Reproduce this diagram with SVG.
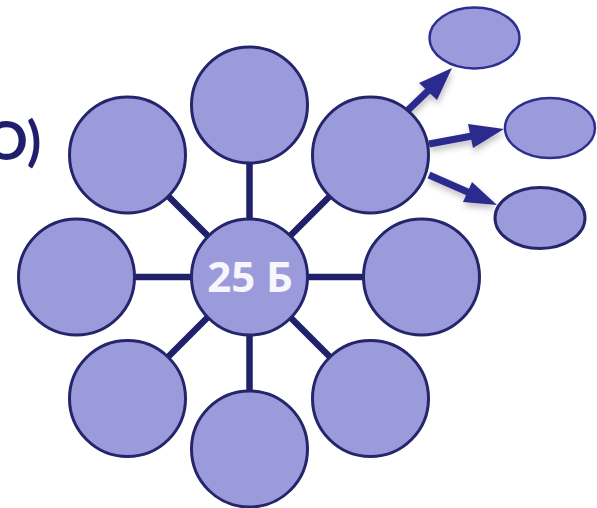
<svg xmlns="http://www.w3.org/2000/svg" width="597" height="508" viewBox="0 0 597 508">
<style>
.n{fill:#9b9bdc;stroke:#25256b;stroke-width:3}
.e{fill:#9b9bdc;stroke:#2e2e91;stroke-width:2.500}
.l{stroke:#20206b;stroke-width:6.500;fill:none}
.a{stroke:#2b2b8f;stroke-width:7;fill:none}
.h{fill:#2b2b8f}
</style>
<defs><filter id="s" x="-30%" y="-30%" width="170%" height="170%"><feDropShadow dx="1" dy="4" stdDeviation="3" flood-color="#000" flood-opacity="0.25"/></filter></defs>
<text id="title" x="-15" y="160" font-family="Lato, sans-serif" font-size="53" font-weight="700" fill="#1f1f6b">O)</text>
<g id="connectors">
<path class="l" d="M249.500 163V219M249.500 335V391M134 277H191M307 277H363M168 196L208 236M330 196L290 236M168 357L208 317M330 357L290 317"/>
<g filter="url(#s)">
<path class="a" d="M407 111L430 89"/><path class="h" d="M452 68L419 83L437 100Z"/>
<path class="a" d="M429 144L472 136"/><path class="h" d="M504 129L468 124L473 148Z"/>
<path class="a" d="M429 175L470 193"/><path class="h" d="M497 205L472 182L463 202Z"/>
</g>
</g>
<g id="n-top"><circle class="n" cx="249.500" cy="105" r="58"/></g>
<g id="n-upper-left"><circle class="n" cx="127.500" cy="155" r="58"/></g>
<g id="n-upper-right"><circle class="n" cx="370.500" cy="155" r="58"/></g>
<g id="n-left"><circle class="n" cx="76.500" cy="277" r="58"/></g>
<g id="n-right"><circle class="n" cx="421.500" cy="277" r="58"/></g>
<g id="n-lower-left"><circle class="n" cx="127.500" cy="398.500" r="58"/></g>
<g id="n-bottom"><circle class="n" cx="249.500" cy="449" r="58"/></g>
<g id="n-lower-right"><circle class="n" cx="370.500" cy="398.500" r="58"/></g>
<g id="n-center"><circle class="n" cx="249.500" cy="277" r="58"/><text x="250" y="292" text-anchor="middle" font-family="Open Sans, sans-serif" font-size="42" font-weight="700" fill="#f6f6fc">25 Б</text></g>
<g id="e-1"><ellipse class="e" cx="474.500" cy="38" rx="45" ry="30.500"/></g>
<g id="e-2"><ellipse class="e" cx="550" cy="128" rx="45" ry="30"/></g>
<g id="e-3"><ellipse cx="540" cy="218" rx="45" ry="30.500" fill="#9b9bdc" stroke="#25256b" stroke-width="3"/></g>
</svg>
